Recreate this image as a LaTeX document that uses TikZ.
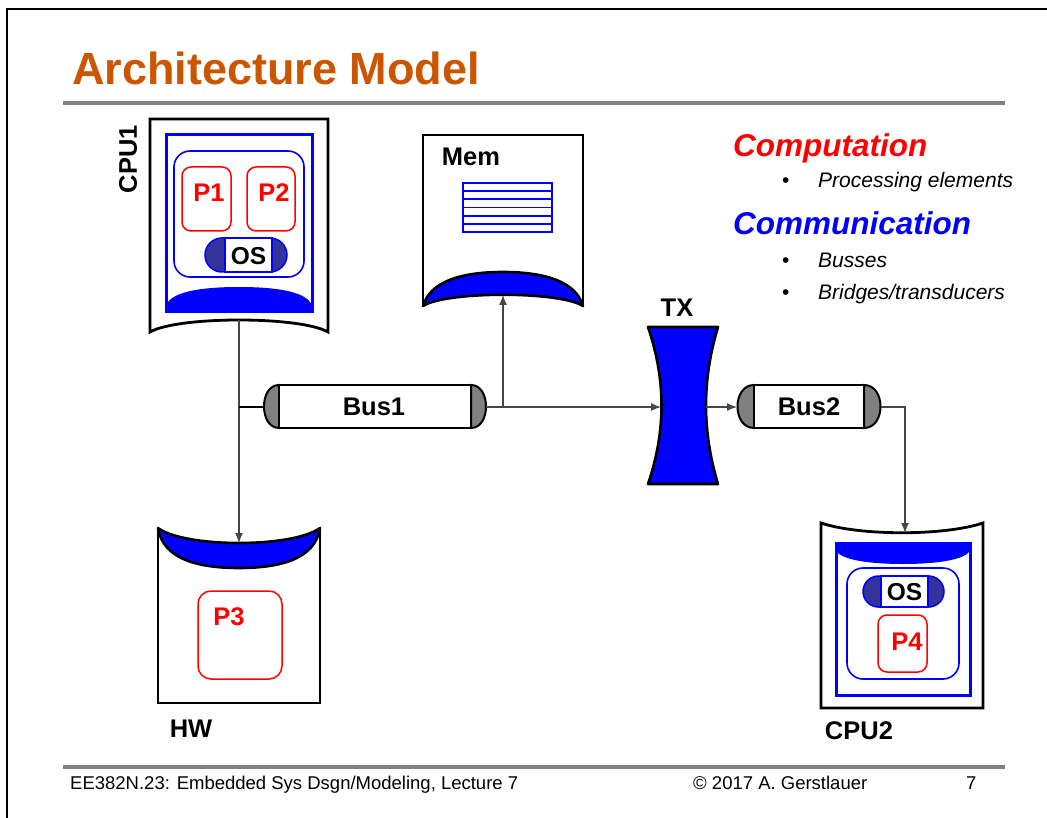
\documentclass[tikz,border=0pt]{standalone}
\usepackage{fontspec}
\setmainfont{Liberation Sans}
\usetikzlibrary{arrows.meta}
\definecolor{titleorange}{RGB}{204,85,0}
\definecolor{osblue}{RGB}{51,51,153}
\definecolor{rulegray}{RGB}{128,128,128}
\definecolor{wiregray}{RGB}{70,70,70}
\definecolor{capgray}{RGB}{128,128,128}
\tikzset{
  outline/.style={draw=black,line width=2.6,line join=round},
  boxwall/.style={draw=black,line width=2.8,fill=white},
  cpuframe/.style={draw=blue,line width=3},
  osframe/.style={draw=blue,line width=1.6,rounded corners=16},
  procbox/.style={draw=red,line width=1.5,rounded corners=9},
  proclbl/.style={text=red,font=\fontsize{25.5}{28}\selectfont\bfseries,inner sep=0},
  lbl/.style={text=black,font=\fontsize{25.5}{28}\selectfont\bfseries,inner sep=0},
  oslbl/.style={text=black,font=\fontsize{24.5}{28}\selectfont\bfseries,inner sep=0},
  wire/.style={draw=wiregray,line width=1.3},
  arr/.style={wire,-{Latex[length=10pt,width=8pt]}},
  capfill/.style={fill=capgray,draw=black,line width=2},
  lens/.style={fill=blue,draw=black,line width=2.6,line join=round},
  heading/.style={font=\fontsize{31.5}{36}\selectfont\bfseries\itshape,inner sep=0,anchor=base west},
  item/.style={font=\fontsize{21}{24}\selectfont\itshape,inner sep=0,anchor=base west},
  dot/.style={font=\fontsize{21}{24}\selectfont,inner sep=0,anchor=base west},
  foot/.style={font=\fontsize{18.5}{22}\selectfont,inner sep=0,anchor=base west}
}
\begin{document}
\begin{tikzpicture}[x=1pt,y=-1pt]
\useasboundingbox (0,0) rectangle (1047,818);
\fill[white] (0,0) rectangle (1047,818);

% slide frame, title and rules
\draw[line width=2.5] (7,818) -- (7,9) -- (1047,9);
\node[anchor=base west,inner sep=0,text=titleorange,font=\fontsize{45}{54}\selectfont\bfseries] (title) at (72,85) {Architecture Model};
\draw[rulegray,line width=4] (63,103.5) -- (1005,103.5);
\draw[rulegray,line width=4] (63,767) -- (1005,767);
\node[foot] (foot1) at (70,789) {EE382N.23: Embedded Sys Dsgn/Modeling, Lecture 7};
\node[foot] (foot2) at (693,789) {© 2017 A. Gerstlauer};
\node[foot] (foot3) at (966,789) {7};

% ---------- CPU1 ----------
\draw[boxwall] (150,119) -- (328,119) -- (328,332) .. controls (300,316) and (178,316) .. (150,332) -- cycle;
\fill[blue] (166,312) -- (166,306) .. controls (170,292) and (200,287) .. (239,287)
  .. controls (278,287) and (308,292) .. (312,306) -- (312,312) -- cycle;
\draw[cpuframe] (166,135) rectangle (312,312);
\draw[osframe] (174,151) rectangle (304,277);
\draw[procbox] (182,167) rectangle (231,231);
\draw[procbox] (247,167) rectangle (295,231);
\node[proclbl] (p1) at (209,193) {P1};
\node[proclbl] (p2) at (274,193) {P2};
\fill[osblue,rounded corners=17] (205,238) rectangle (287,272);
\fill[white] (225,238) rectangle (272,272);
\draw[blue,line width=1.5] (225,238) rectangle (272,272);
\draw[blue,line width=1.5,rounded corners=17] (205,238) rectangle (287,272);
\node[oslbl] (os1) at (248.5,256) {OS};
\node[lbl,rotate=90] (cpu1lbl) at (128,159) {CPU1};
\coordinate (cpu1s) at (239,320);

% ---------- Mem ----------
\draw[boxwall] (423,306) -- (423,135) -- (583,135) -- (583,306);
\draw[lens] (423,306) .. controls (430,282) and (460,272) .. (503,272)
  .. controls (546,272) and (576,282) .. (583,306)
  .. controls (560,291) and (446,291) .. cycle;
\node[lbl] (memlbl) at (471,157) {Mem};
\fill[white] (463,183) rectangle (552,232);
\foreach \yy in {191.2,199.3,207.5,215.7,223.8}
  \draw[blue,line width=1.8] (463,\yy) -- (552,\yy);
\draw[blue,line width=2] (463,183) rectangle (552,232);
\coordinate (mems) at (503,295);

% ---------- Bus1 ----------
\draw[capfill] (279,385) .. controls (259,385) and (259,428) .. (279,428) -- cycle;
\draw[capfill] (471,385) .. controls (491,385) and (491,428) .. (471,428) -- cycle;
\draw[outline,fill=white] (279,385) rectangle (471,428);
\node[lbl] (bus1) at (374,406.5) {Bus1};
\coordinate (bus1w) at (264,407);
\coordinate (bus1e) at (486,407);

% ---------- TX ----------
\draw[lens] (648,327) -- (718,327) .. controls (702,380) and (702,431) .. (718,484)
  -- (648,484) .. controls (666,431) and (666,380) .. cycle;
\node[lbl] (txlbl) at (677,308) {TX};
\coordinate (txw) at (661,407);
\coordinate (txe) at (706,407);

% ---------- Bus2 ----------
\draw[capfill] (754,385) .. controls (732,385) and (732,428) .. (754,428) -- cycle;
\draw[capfill] (864,385) .. controls (886,385) and (886,428) .. (864,428) -- cycle;
\draw[outline,fill=white] (754,385) rectangle (864,428);
\node[lbl] (bus2) at (809,406.5) {Bus2};
\coordinate (bus2w) at (737,407);
\coordinate (bus2e) at (881,407);

% ---------- HW ----------
\draw[boxwall] (158,528) -- (158,703) -- (320,703) -- (320,528);
\draw[lens] (158,528) .. controls (185,548) and (293,548) .. (320,528)
  .. controls (315,560) and (278,568) .. (239,568)
  .. controls (200,568) and (163,560) .. cycle;
\draw[procbox,rounded corners=13] (198,591) rectangle (282,679);
\node[proclbl] (p3) at (229,617) {P3};
\node[lbl] (hwlbl) at (191,729) {HW};
\coordinate (hwn) at (239,543);

% ---------- CPU2 ----------
\draw[boxwall] (821,523) .. controls (860,536) and (944,536) .. (983,523) -- (983,708) -- (821,708) -- cycle;
\fill[blue] (836,543) -- (970,543) -- (970,551) .. controls (964,560) and (936,564) .. (903,564)
  .. controls (870,564) and (842,560) .. (836,551) -- cycle;
\draw[cpuframe] (836,543) rectangle (970,695);
\draw[osframe] (847,568) rectangle (959,679);
\fill[osblue,rounded corners=15.5] (863,576) rectangle (944,607);
\fill[white] (881,576) rectangle (928,607);
\draw[blue,line width=1.5] (881,576) rectangle (928,607);
\draw[blue,line width=1.5,rounded corners=15.5] (863,576) rectangle (944,607);
\node[oslbl] (os2) at (904.5,592) {OS};
\draw[procbox] (878,615) rectangle (927,672);
\node[proclbl] (p4) at (907,642) {P4};
\node[lbl] (cpu2lbl) at (859,731) {CPU2};
\coordinate (cpu2n) at (905,533);

% ---------- connectors ----------
\coordinate (j1) at (239,407);
\coordinate (j2) at (503,407);
\coordinate (j3) at (905,407);
\draw[arr] (cpu1s) -- (hwn);
\draw[black,line width=1.8] (j1) -- (bus1w);
\draw[wire] (bus1e) -- (j2);
\draw[arr] (j2) -- (txw);
\draw[arr] (j2) -- (mems);
\draw[arr] (txe) -- (bus2w);
\draw[arr] (bus2e) -- (j3) -- (cpu2n);

% ---------- legend ----------
\node[heading,text=red] (comp) at (733,157) {Computation};
\node[dot] (b1) at (782,188) {•};
\node[item] (i1) at (818,188) {Processing elements};
\node[heading,text=blue] (comm) at (733,235) {Communication};
\node[dot] (b2) at (782,268) {•};
\node[item] (i2) at (818,268) {Busses};
\node[dot] (b3) at (782,300) {•};
\node[item] (i3) at (818,300) {Bridges/transducers};
\end{tikzpicture}
\end{document}
